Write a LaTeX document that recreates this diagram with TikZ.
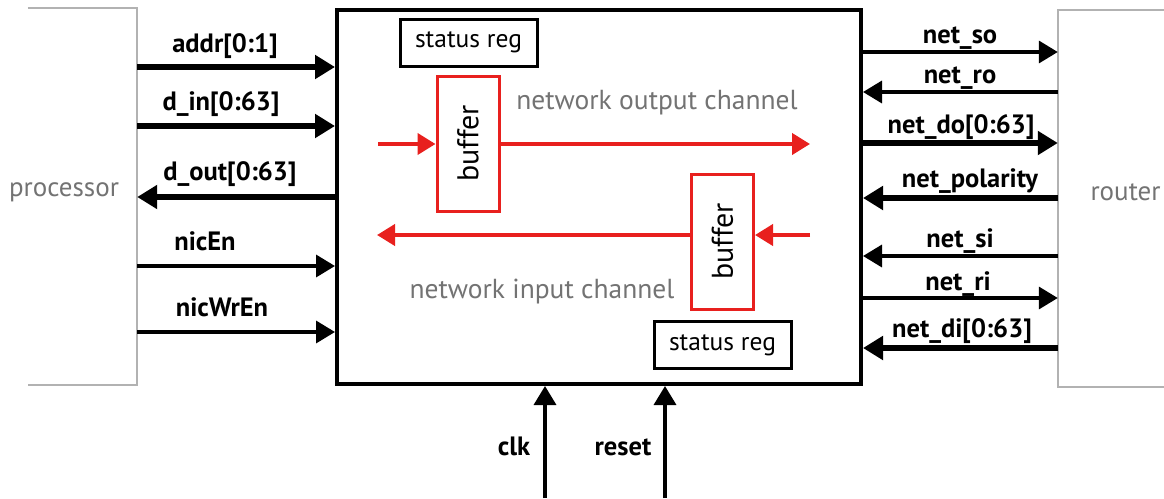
\documentclass[tikz,border=0pt]{standalone}
\usepackage{fontspec}
\setmainfont{PT Sans}
\usetikzlibrary{arrows.meta}
\definecolor{chanred}{RGB}{232,32,30}
\tikzset{
  bus/.style={line width=5.5pt, -{Triangle[length=20pt,width=23pt]}},
  wire/.style={line width=3.5pt, -{Triangle[length=19pt,width=22pt]}},
  chan/.style={line width=4pt, color=chanred, -{Triangle[length=18pt,width=21pt]}},
  sig/.style={anchor=base, inner sep=0pt, font=\bfseries\fontsize{26.5}{28}\selectfont},
  side/.style={text=black!55, font=\fontsize{27}{29}\selectfont},
  chtext/.style={anchor=base, inner sep=0pt, text=black!55, font=\fontsize{27.5}{29}\selectfont},
  regbox/.style={draw, line width=3pt, inner sep=0pt, minimum width=137pt, minimum height=47pt, font=\fontsize{25.5}{27}\selectfont},
  bufbox/.style={draw=chanred, line width=3pt, inner sep=0pt, minimum width=62pt, minimum height=135pt, font=\fontsize{30}{32}\selectfont}
}
\begin{document}
\begin{tikzpicture}[x=1pt,y=-1pt]
		%%%%% START %%%%%
		\useasboundingbox[fill=white] (0,0) rectangle (1164,498);
		
		\node[inner sep=0pt, minimum width=109pt, minimum height=377pt] (proc) at (82.5,196.5) {};
		\draw[line width=2.5pt, color=black!30] (proc.north west) -- (proc.north east) -- (proc.south east) -- (proc.south west);
		\node[side] (proclbl) at (64,192) {processor};
		
		\node[inner sep=0pt, minimum width=200pt, minimum height=377pt] (router) at (1158,198.5) {};
		\draw[line width=2.5pt, color=black!30] (router.north east) -- (router.north west) -- (router.south west) -- (router.south east);
		\node[side, anchor=west] (routerlbl) at (1087,192) {router};
		
		\node[draw, line width=4pt, inner sep=0pt, minimum width=524pt, minimum height=374pt] (nic) at (599,197) {};
		
		% processor side
		\draw[bus] (proc.east |- 0,67) -- (nic.west |- 0,67);
		\node[sig] (addr) at (225,52) {addr[0:1]};
		\draw[bus] (proc.east |- 0,126) -- (nic.west |- 0,126);
		\node[sig] (din) at (221,110) {d\_in[0:63]};
		\draw[bus] (nic.west |- 0,197) -- (proc.east |- 0,197);
		\node[sig] (dout) at (230,180) {d\_out[0:63]};
		\draw[wire] (proc.east |- 0,266) -- (nic.west |- 0,266);
		\node[sig] (nicen) at (205,250) {nicEn};
		\draw[wire] (proc.east |- 0,332) -- (nic.west |- 0,332);
		\node[sig] (nicwren) at (222,316) {nicWrEn};
		
		% router side
		\draw[wire] (nic.east |- 0,52) -- (router.west |- 0,52);
		\node[sig] (netso) at (960,43) {net\_so};
		\draw[wire] (router.west |- 0,92) -- (nic.east |- 0,92);
		\node[sig] (netro) at (960,83) {net\_ro};
		\draw[bus] (nic.east |- 0,143) -- (router.west |- 0,143);
		\node[sig] (netdo) at (961,133) {net\_do[0:63]};
		\draw[bus] (router.west |- 0,198) -- (nic.east |- 0,198);
		\node[sig] (netpol) at (970,187) {net\_polarity};
		\draw[wire] (router.west |- 0,256) -- (nic.east |- 0,256);
		\node[sig] (netsi) at (960,247) {net\_si};
		\draw[wire] (nic.east |- 0,298) -- (router.west |- 0,298);
		\node[sig] (netri) at (958,290) {net\_ri};
		\draw[bus] (router.west |- 0,348) -- (nic.east |- 0,348);
		\node[sig] (netdi) at (962,337) {net\_di[0:63]};
		
		% clock and reset
		\coordinate (clkin) at (545,498);
		\coordinate (rstin) at (665,498);
		\draw[wire] (clkin) -- (clkin |- nic.south);
		\draw[wire] (rstin) -- (rstin |- nic.south);
		\node[sig] (clk) at (514,455) {clk};
		\node[sig] (reset) at (623,455) {reset};
		
		% inside the interface
		\node[regbox] (regtop) at (468.5,42.5) {status reg};
		\node[regbox] (regbot) at (722.5,345) {status reg};
		
		\node[bufbox] (bufout) at (468,143.5) {\rotatebox{90}{buffer}};
		\coordinate (outbeg) at (378,144);
		\coordinate (outend) at (810,144);
		\draw[chan] (outbeg) -- (bufout.west |- outbeg);
		\draw[chan] (bufout.east |- outbeg) -- (outend);
		\node[chtext] (outlbl) at (657,109) {network output channel};
		
		\node[bufbox] (bufin) at (722.5,241.5) {\rotatebox{90}{buffer}};
		\coordinate (inbeg) at (810,235);
		\coordinate (inend) at (377,235);
		\draw[chan] (inbeg) -- (bufin.east |- inbeg);
		\draw[chan] (bufin.west |- inbeg) -- (inend);
		\node[chtext] (inlbl) at (542,298) {network input channel};
		
		%%%%% END %%%%%
	\end{tikzpicture}
\end{document}
